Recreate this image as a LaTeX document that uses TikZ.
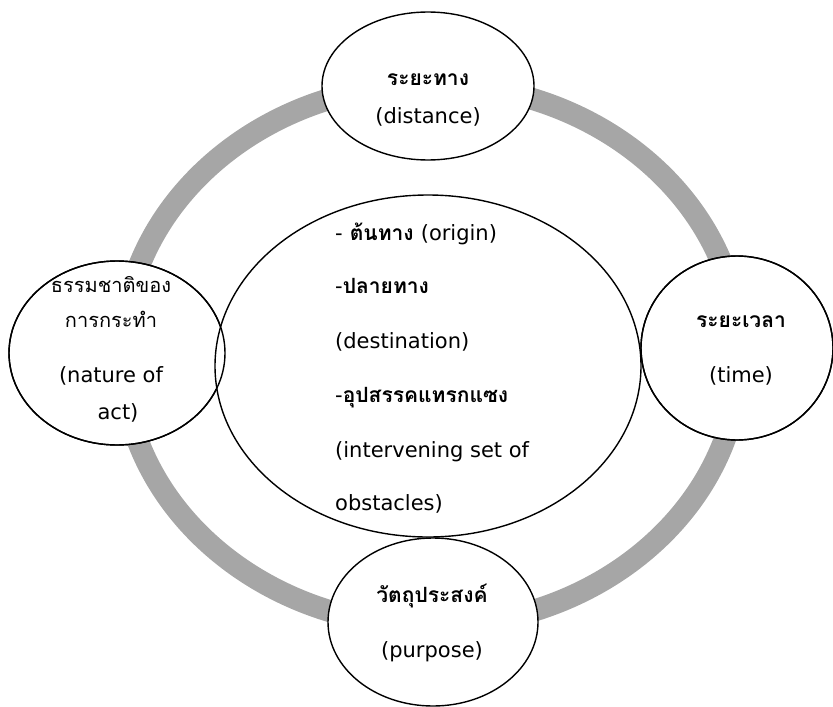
\documentclass[tikz,border=0pt]{standalone}
\usepackage{fontspec}
\setmainfont[Script=Thai]{Loma}
\newfontfamily\latfont{DejaVu Sans}
\usetikzlibrary{shapes.geometric}
\definecolor{ringgray}{RGB}{166,166,166}
\tikzset{
  bubble/.style={ellipse, draw=black, line width=1.4pt, fill=white, inner sep=0pt},
  outline/.style={ellipse, draw=black, line width=1.4pt, inner sep=0pt},
  lbl/.style={anchor=base, inner sep=0pt, font=\fontsize{20}{24}\selectfont},
  lblb/.style={lbl, font=\fontsize{21}{25}\selectfont\bfseries},
  item/.style={anchor=base west, inner sep=0pt, font=\fontsize{21}{25}\selectfont\bfseries}
}
\newcommand{\latt}[1]{{\fontsize{21}{25}\selectfont\latfont\mdseries #1}}
\begin{document}
\begin{tikzpicture}[x=1pt,y=-1pt]
\useasboundingbox (0,0) rectangle (833,707);
% grey ring
\draw[ringgray, line width=22pt] (431,355) ellipse [x radius=309, y radius=271];
% bubbles
\node[bubble, minimum width=212pt, minimum height=148pt] (top) at (428,86) {};
\node[bubble, minimum width=216pt, minimum height=184pt] (left) at (117,353) {};
\node[bubble, minimum width=192pt, minimum height=184pt] (right) at (737,348) {};
\node[bubble, minimum width=210pt, minimum height=168pt] (bottom) at (433,622) {};
\node[bubble, minimum width=426pt, minimum height=342pt] (center) at (428,366) {};
% redraw outlines so every border shows
\node[outline, minimum width=216pt, minimum height=184pt] (leftline) at (117,353) {};
\node[outline, minimum width=192pt, minimum height=184pt] (rightline) at (737,348) {};
% top
\node[lblb] (t1) at (428,85) {ระยะทาง};
\node[lblb] (t2) at (428,123) {\latt{(distance)}};
% left
\node[lbl] (l1) at (111,292) {ธรรมชาติของ};
\node[lbl] (l2) at (111,327) {การกระทำ};
\node[lbl] (l3) at (111,382) {\latt{(nature of}};
\node[lbl] (l4) at (118,419) {\latt{act)}};
% right
\node[lblb] (r1) at (741,327) {ระยะเวลา};
\node[lblb] (r2) at (741,382) {\latt{(time)}};
% bottom
\node[lblb] (b1) at (432,602) {วัตถุประสงค์};
\node[lblb] (b2) at (432,657) {\latt{(purpose)}};
% center
\node[item] (c1) at (335,240) {\latt{-} ต้นทาง \latt{(origin)}};
\node[item] (c2) at (335,293) {\latt{-}ปลายทาง};
\node[item] (c3) at (335,348) {\latt{(destination)}};
\node[item] (c4) at (335,402) {\latt{-}อุปสรรคแทรกแซง};
\node[item] (c5) at (335,457) {\latt{(intervening set of}};
\node[item] (c6) at (335,510) {\latt{obstacles)}};
\end{tikzpicture}
\end{document}
